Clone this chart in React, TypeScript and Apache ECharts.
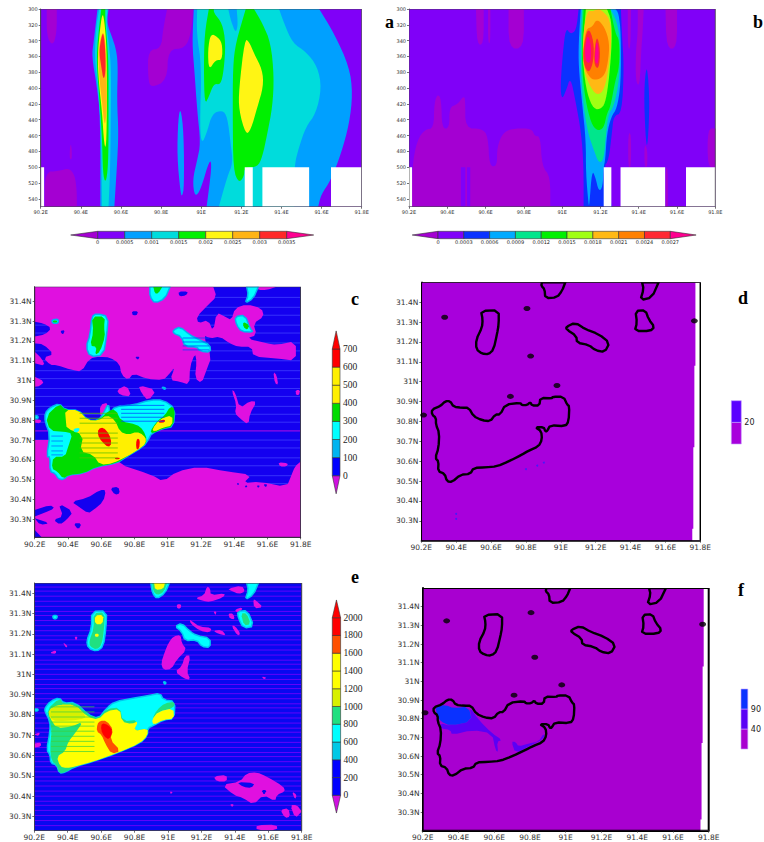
import React, { useEffect, useRef } from "react";
import * as echarts from "echarts";

type P = number[];
// ---- axis ticks
const lonTicks = [90.2, 90.4, 90.6, 90.8, 91, 91.2, 91.4, 91.6, 91.8];
const latTicks = [30.3, 30.4, 30.5, 30.6, 30.7, 30.8, 30.9, 31, 31.1, 31.2, 31.3, 31.4];
const pressureTicks = [300, 320, 340, 360, 380, 400, 420, 440, 460, 480, 500, 520, 540];
const levelsA = [0, 0.0005, 0.001, 0.0015, 0.002, 0.0025, 0.003, 0.0035];
const levelsB = [0, 0.0003, 0.0006, 0.0009, 0.0012, 0.0015, 0.0018, 0.0021, 0.0024, 0.0027];
const levelsC = [0, 100, 200, 300, 400, 500, 600, 700];
const levelsE = [0, 200, 400, 600, 800, 1000, 1200, 1400, 1600, 1800, 2000];
const levelsD = [0, 20, 40];
const levelsF = [-10, 40, 90, 140];

// ---- panel a (longitude, pressure)
const aNegTop: P[] = [[90.23,300],[90.28,300],[90.28,330],[90.26,347],[90.23,335]];
const aNegLow: P[] = [[90.22,506],[90.29,505],[90.34,501],[90.37,510],[90.38,530],[90.38,550],[90.22,550]];
const aNegTiny: P[] = [[90.345,478],[90.35,470],[90.355,478],[90.355,490],[90.345,490]];
const aNegMid: P[] = [[90.83,300],[90.96,300],[90.95,330],[90.92,350],[90.835,351],[90.83,390],[90.75,400],[90.735,388],[90.735,352],[90.8,350],[90.81,326]];
const aBlue1: P[] = [[90.483,300],[90.463,343],[90.455,360],[90.48,398],[90.497,436],[90.497,550],[90.567,550],[90.58,499],[90.588,457],[90.58,415],[90.585,373],[90.577,352],[90.555,335],[90.53,318],[90.538,300]];
const aCyan1: P[] = [[90.492,300],[90.477,322],[90.468,360],[90.485,398],[90.502,457],[90.505,550],[90.538,550],[90.547,499],[90.55,415],[90.55,373],[90.543,352],[90.527,318],[90.533,300]];
const aGreen1: P[] = [[90.502,300],[90.493,318],[90.477,360],[90.49,407],[90.505,457],[90.51,508],[90.522,520],[90.533,508],[90.538,478],[90.538,415],[90.538,373],[90.533,348],[90.522,314],[90.522,300]];
const aYellow1: P[] = [[90.508,305],[90.497,322],[90.483,360],[90.49,394],[90.505,428],[90.517,474],[90.527,474],[90.53,424],[90.53,381],[90.527,343],[90.517,314]];
const aOrange1: P[] = [[90.51,327],[90.493,343],[90.487,358],[90.493,390],[90.505,415],[90.518,449],[90.527,436],[90.53,415],[90.527,373],[90.522,339]];
const aRed1: P[] = [[90.51,329],[90.497,343],[90.492,356],[90.502,373],[90.513,390],[90.523,381],[90.523,360],[90.518,339]];
const aBlueThin: P[] = [[90.897,424],[90.885,440],[90.88,487],[90.897,533],[90.905,537],[90.915,525],[90.913,457]];
const aBlueBig: P[] = [[90.963,300],[90.955,343],[90.967,381],[90.98,428],[90.997,470],[90.98,491],[90.957,516],[90.968,538],[90.997,529],[91.043,489],[91.053,499],[91.027,550],[91.583,550],[91.597,535],[91.647,516],[91.697,483],[91.738,445],[91.755,407],[91.738,373],[91.663,331],[91.588,300]];
const aCyanBig: P[] = [[90.98,300],[90.977,331],[91.002,373],[90.993,449],[91.003,471],[91.027,457],[91.055,432],[91.105,428],[91.13,436],[91.147,470],[91.158,495],[91.13,512],[91.088,550],[91.463,550],[91.463,499],[91.488,474],[91.522,449],[91.572,432],[91.6,400],[91.58,373],[91.522,354],[91.455,343],[91.413,318],[91.388,300]];
const aBlueGap: P[] = [[91.135,300],[91.147,314],[91.172,331],[91.183,320],[91.177,300]];
const aGreen2: P[] = [[91.038,300],[91.017,331],[91.013,373],[91.017,421],[91.038,411],[91.063,394],[91.097,396],[91.113,377],[91.122,343],[91.105,318],[91.063,305],[91.063,300]];
const aYellow2: P[] = [[91.047,331],[91.033,352],[91.038,378],[91.072,364],[91.105,365],[91.105,343],[91.08,335]];
const aGreen3: P[] = [[91.222,300],[91.172,343],[91.158,373],[91.157,436],[91.16,504],[91.188,520],[91.213,512],[91.217,500],[91.28,500],[91.305,487],[91.33,457],[91.355,424],[91.363,386],[91.347,343],[91.305,318],[91.263,300]];
const aYellow3: P[] = [[91.217,338],[91.188,402],[91.188,428],[91.222,459],[91.247,453],[91.28,424],[91.31,398],[91.305,377],[91.263,356],[91.238,341]];
const aBlanks: P[][] = [
  [[90.2,500],[90.217,500],[90.217,550],[90.2,550]],
  [[91.217,500],[91.257,500],[91.257,550],[91.217,550]],
  [[91.305,500],[91.538,500],[91.538,550],[91.305,550]],
  [[91.647,500],[91.8,500],[91.8,550],[91.647,550]],
];

// ---- panel b (longitude, pressure)
const bNegLow: P[] = [[90.216,500],[90.242,466],[90.285,452],[90.329,451],[90.332,419],[90.35,407],[90.369,415],[90.372,451],[90.411,451],[90.411,424],[90.451,421],[90.486,410],[90.494,415],[90.494,451],[90.581,451],[90.613,461],[90.62,499],[90.66,499],[90.66,474],[90.694,455],[90.755,451],[90.842,451],[90.856,461],[90.886,461],[90.895,499],[90.938,512],[90.938,550],[90.216,550]];
const bStripe1: P[] = [[90.471,500],[90.494,500],[90.494,550],[90.471,550]];
const bStripe2: P[] = [[90.503,500],[90.52,500],[90.52,550],[90.503,550]];
const bNegTops: P[][] = [
  [[90.55,300],[90.59,300],[90.59,345],[90.555,345]],
  [[90.613,300],[90.625,300],[90.625,343],[90.613,343]],
  [[90.72,300],[90.8,300],[90.8,350],[90.72,350]],
  [[91.343,300],[91.36,300],[91.357,350],[91.343,350]],
  [[91.395,300],[91.426,300],[91.42,331],[91.413,352],[91.405,398],[91.384,392],[91.385,352],[91.395,331]],
  [[91.54,300],[91.6,300],[91.6,350],[91.545,350]],
  [[91.345,457],[91.36,457],[91.36,500],[91.345,500]],
  [[91.43,470],[91.445,478],[91.445,500],[91.43,500]],
  [[91.76,451],[91.8,451],[91.8,500],[91.76,500]],
  [[91.54,500],[91.552,500],[91.552,550],[91.54,550]],
];
const bBlue: P[] = [[91.086,300],[91.074,327],[91.043,332],[91.022,324],[91.008,343],[90.99,398],[90.999,415],[91.022,402],[91.043,386],[91.069,415],[91.1,457],[91.112,499],[91.112,550],[91.26,550],[91.217,500],[91.243,491],[91.26,457],[91.269,435],[91.312,432],[91.323,373],[91.312,331],[91.307,300]];
const bLight: P[] = [[91.097,300],[91.086,343],[91.086,373],[91.104,419],[91.124,466],[91.124,508],[91.138,548],[91.142,548],[91.156,504],[91.173,512],[91.191,531],[91.212,525],[91.217,499],[91.225,491],[91.234,457],[91.257,436],[91.286,426],[91.307,394],[91.307,331],[91.295,305],[91.278,300]];
const bMint: P[] = [[91.104,300],[91.097,339],[91.097,377],[91.112,424],[91.135,457],[91.165,478],[91.191,495],[91.217,491],[91.229,457],[91.243,432],[91.269,424],[91.299,390],[91.304,339],[91.283,314],[91.252,300]];
const bGreen: P[] = [[91.112,300],[91.104,339],[91.104,377],[91.121,415],[91.152,445],[91.182,454],[91.217,451],[91.234,432],[91.252,424],[91.278,390],[91.299,373],[91.299,339],[91.278,331],[91.252,300]];
const bLime: P[] = [[91.124,300],[91.11,339],[91.11,373],[91.13,407],[91.165,427],[91.208,426],[91.229,415],[91.246,386],[91.26,343],[91.257,314],[91.234,300]];
const bGold: P[] = [[91.13,302],[91.108,335],[91.108,372],[91.14,396],[91.182,410],[91.222,402],[91.248,367],[91.258,335],[91.248,312],[91.212,303],[91.191,300],[91.156,303]];
const bOrange: P[] = [[91.124,325],[91.11,352],[91.113,373],[91.147,388],[91.182,390],[91.222,384],[91.24,367],[91.248,343],[91.222,323],[91.182,312],[91.156,323]];
const bRed1: P[] = [[91.135,322],[91.11,349],[91.112,370],[91.14,382],[91.165,365],[91.165,340]];
const bRed2: P[] = [[91.182,333],[91.168,352],[91.168,372],[91.192,376],[91.2,352]];
const bPink1: P[] = [[91.133,331],[91.117,352],[91.125,368],[91.15,368],[91.152,346]];
const bPink2: P[] = [[91.18,339],[91.172,355],[91.172,368],[91.188,370],[91.192,352]];
const bThin: P[] = [[91.44,370],[91.427,405],[91.435,460],[91.445,478],[91.456,430],[91.452,392]];
const bBlanks: P[][] = [
  [[90.2,500],[90.216,500],[90.216,550],[90.2,550]],
  [[91.217,500],[91.257,500],[91.257,550],[91.217,550]],
  [[91.305,500],[91.538,500],[91.538,550],[91.305,550]],
  [[91.647,500],[91.8,500],[91.8,550],[91.647,550]],
];

// ---- panel c (longitude, latitude)
const cNegTop: P[] = [[90.2,31.474],[91.274,31.474],[91.294,31.424],[91.244,31.382],[91.174,31.323],[91.184,31.289],[91.244,31.306],[91.274,31.247],[91.294,31.344],[91.344,31.323],[91.384,31.306],[91.404,31.365],[91.475,31.385],[91.565,31.365],[91.579,31.323],[91.515,31.289],[91.535,31.23],[91.475,31.213],[91.595,31.188],[91.655,31.18],[91.771,31.2],[91.771,31.099],[91.655,31.112],[91.515,31.121],[91.505,31.171],[91.424,31.171],[91.374,31.188],[91.314,31.222],[91.254,31.213],[91.214,31.23],[91.264,31.121],[91.234,31.054],[91.204,30.986],[91.164,31.012],[91.174,31.096],[91.164,31.138],[91.134,31.07],[91.13,30.978],[91.074,30.995],[91.014,31.003],[91.044,31.07],[91.004,31.028],[90.974,31.003],[90.873,31.008],[90.793,31.037],[90.763,31.003],[90.723,31.028],[90.709,31.087],[90.653,31.116],[90.593,31.121],[90.529,31.112],[90.483,31.045],[90.422,31.054],[90.332,31.079],[90.292,31.079],[90.252,31.116],[90.316,31.133],[90.252,31.183],[90.2,31.188],[90.2,31.222],[90.262,31.233],[90.302,31.264],[90.252,31.289],[90.2,31.297]];
const cNegLow: P[] = [[90.2,30.7],[90.593,30.7],[90.693,30.583],[90.903,30.524],[90.974,30.49],[91.054,30.541],[91.194,30.566],[91.354,30.541],[91.505,30.524],[91.454,30.482],[91.555,30.49],[91.715,30.462],[91.745,30.524],[91.765,30.566],[91.8,30.591],[91.8,30.209],[90.2,30.209]];
const cNegBits: P[][] = [
  [[91.535,31.474],[91.655,31.474],[91.595,31.457],[91.545,31.457]],
  [[90.2,31.146],[90.242,31.112],[90.262,31.075],[90.2,31.087]],
  [[90.2,31.02],[90.258,30.995],[90.232,30.973],[90.2,30.969]],
  [[90.693,30.953],[90.753,30.978],[90.783,30.919],[90.713,30.927]],
  [[90.823,30.978],[90.933,30.953],[90.883,30.897],[90.843,30.936]],
  [[91.384,30.953],[91.404,30.944],[91.434,30.86],[91.495,30.897],[91.535,30.893],[91.495,30.835],[91.485,30.776],[91.434,30.81],[91.404,30.835],[91.414,30.877]],
  [[91.635,31.045],[91.655,31.028],[91.665,30.978],[91.645,30.986]],
  [[91.771,30.953],[91.795,30.953],[91.791,30.927],[91.771,30.927]],
  [[90.593,30.877],[90.643,30.89],[90.629,30.826],[90.593,30.818]],
  [[90.2,30.806],[90.242,30.801],[90.232,30.784],[90.2,30.789]],
  [[91.665,30.588],[91.725,30.583],[91.715,30.566],[91.675,30.566]],
];
const cHoles: P[][] = [
  [[90.422,30.389],[90.513,30.406],[90.593,30.448],[90.629,30.448],[90.613,30.389],[90.553,30.347],[90.523,30.33],[90.463,30.364]],
  [[90.653,30.457],[90.703,30.465],[90.713,30.431],[90.683,30.423]],
  [[90.2,30.347],[90.292,30.372],[90.322,30.356],[90.252,30.33],[90.2,30.314]],
  [[90.342,30.381],[90.432,30.339],[90.392,30.297],[90.352,30.272],[90.312,30.297],[90.372,30.314]],
  [[90.2,30.246],[90.242,30.209],[90.2,30.209]],
  [[90.432,30.28],[90.483,30.28],[90.463,30.246]],
  [[90.2,30.305],[90.292,30.28],[90.232,30.272]],
  [[91.414,30.482],[91.43,30.482],[91.424,30.47]],
  [[91.465,30.47],[91.48,30.47],[91.47,30.458]],
  [[91.535,30.47],[91.555,30.47],[91.545,30.458]],
  [[91.575,30.477],[91.6,30.477],[91.59,30.46]],
  [[90.783,31.35],[90.823,31.35],[90.813,31.33],[90.79,31.33]],
  [[91.064,31.45],[91.124,31.45],[91.11,31.43],[91.07,31.425]],
  [[90.352,31.25],[90.382,31.255],[90.37,31.23]],
  [[90.803,31.12],[90.833,31.12],[90.82,31.104]],
];
const cBody: P[] = [[90.262,30.835],[90.292,30.864],[90.348,30.885],[90.382,30.852],[90.463,30.852],[90.517,30.801],[90.583,30.798],[90.613,30.835],[90.643,30.885],[90.653,30.835],[90.683,30.869],[90.793,30.877],[90.893,30.902],[90.974,30.902],[91.044,30.86],[91.034,30.768],[90.974,30.759],[90.903,30.734],[90.883,30.7],[90.853,30.667],[90.753,30.616],[90.693,30.583],[90.573,30.566],[90.493,30.532],[90.402,30.524],[90.372,30.499],[90.342,30.504],[90.322,30.532],[90.292,30.541],[90.292,30.616],[90.272,30.616],[90.292,30.726],[90.262,30.793]];
const cGreen: P[] = [[90.266,30.818],[90.348,30.885],[90.382,30.852],[90.463,30.852],[90.517,30.801],[90.583,30.798],[90.643,30.847],[90.683,30.857],[90.723,30.793],[90.813,30.779],[90.853,30.751],[90.877,30.7],[90.853,30.667],[90.753,30.616],[90.693,30.583],[90.573,30.566],[90.493,30.532],[90.402,30.524],[90.372,30.504],[90.336,30.541],[90.302,30.557],[90.312,30.616],[90.382,30.616],[90.402,30.667],[90.428,30.734],[90.372,30.742],[90.292,30.746]];
const cYellow: P[] = [[90.382,30.852],[90.463,30.852],[90.517,30.801],[90.583,30.798],[90.633,30.826],[90.683,30.801],[90.713,30.742],[90.763,30.726],[90.813,30.742],[90.853,30.726],[90.873,30.7],[90.853,30.667],[90.753,30.616],[90.673,30.583],[90.593,30.574],[90.553,30.625],[90.473,30.642],[90.493,30.726],[90.392,30.759],[90.388,30.793]];
const cPocket: P[] = [[90.432,30.756],[90.473,30.763],[90.463,30.739],[90.437,30.739]];
const cReds: P[][] = [
  [[90.583,30.756],[90.613,30.764],[90.649,30.729],[90.663,30.684],[90.643,30.662],[90.603,30.692],[90.579,30.726]],
  [[90.817,30.709],[90.833,30.7],[90.829,30.658],[90.813,30.65],[90.809,30.684]],
  [[90.943,30.796],[90.983,30.805],[90.983,30.79],[90.95,30.786]],
  [[90.683,30.611],[90.713,30.611],[90.709,30.603],[90.683,30.603]],
];
const cNeGreen: P[] = [[90.893,30.742],[90.933,30.793],[90.984,30.826],[91.014,30.869],[91.044,30.86],[91.034,30.768],[90.974,30.759],[90.913,30.734]];
const cNeYellow: P[] = [[90.907,30.756],[90.953,30.806],[91.028,30.826],[91.028,30.773],[90.974,30.763],[90.918,30.742]];
const cBlobs: P[][] = [
  [[90.543,31.323],[90.573,31.339],[90.643,31.323],[90.633,31.23],[90.613,31.129],[90.533,31.121],[90.509,31.171],[90.533,31.23]],
  [[90.893,31.474],[91.014,31.474],[90.984,31.415],[90.923,31.39],[90.893,31.424]],
  [[91.404,31.323],[91.465,31.331],[91.495,31.264],[91.515,31.244],[91.445,31.247],[91.414,31.281]],
  [[91.475,31.474],[91.545,31.474],[91.515,31.415],[91.465,31.39],[91.485,31.432]],
  [[91.034,31.255],[91.074,31.272],[91.134,31.23],[91.194,31.205],[91.254,31.18],[91.258,31.143],[91.194,31.149],[91.174,31.171],[91.104,31.171],[91.084,31.222],[91.034,31.239]],
  [[90.302,31.306],[90.342,31.311],[90.342,31.289],[90.308,31.289]],
  [[90.2,30.822],[90.22,30.822],[90.22,30.808],[90.2,30.808]],
  [[90.964,30.968],[90.99,30.962],[90.98,30.955]],
];
const cBlobGreens: P[][] = [
  [[90.543,31.323],[90.623,31.323],[90.617,31.272],[90.623,31.222],[90.593,31.146],[90.563,31.129],[90.573,31.171],[90.533,31.176],[90.553,31.247]],
  [[90.913,31.474],[90.968,31.474],[90.943,31.44],[90.923,31.44]],
  [[91.454,31.297],[91.491,31.281],[91.479,31.255],[91.454,31.272]],
  [[90.31,31.303],[90.335,31.303],[90.335,31.293],[90.31,31.293]],
];
const cBackLats = [31.42, 31.37, 31.33, 31.28, 31.24, 31.19, 31.15, 31.1, 31.05, 31.01, 30.96, 30.92, 30.87, 30.83, 30.79, 30.7, 30.66, 30.61, 30.57, 30.52, 30.48];
const cMagentaLat = [30.746];
const cCyanLatsNe = [30.875, 30.855, 30.835, 30.815, 30.795];
const cCyanLatsW = [30.72, 30.695, 30.67, 30.645, 30.625];
const cCyanLatsBlob = [31.215, 31.195, 31.175, 31.155];
const cYellowLats = [30.835, 30.81, 30.785, 30.735, 30.71, 30.685, 30.66, 30.635, 30.61];

// ---- panels d and f share the same outlines
const outMain: P[] = [[90.261,30.86],[90.309,30.877],[90.338,30.902],[90.366,30.902],[90.385,30.874],[90.433,30.869],[90.472,30.869],[90.5,30.826],[90.548,30.806],[90.596,30.801],[90.624,30.835],[90.653,30.835],[90.682,30.885],[90.768,30.894],[90.777,30.882],[90.806,30.882],[90.825,30.897],[90.835,30.88],[90.877,30.88],[90.883,30.919],[90.95,30.916],[90.953,30.924],[91.016,30.924],[91.036,30.885],[91.049,30.877],[91.045,30.801],[91.026,30.776],[90.94,30.781],[90.921,30.751],[90.911,30.751],[90.902,30.771],[90.854,30.771],[90.888,30.751],[90.892,30.709],[90.873,30.675],[90.816,30.653],[90.777,30.633],[90.701,30.599],[90.634,30.574],[90.567,30.569],[90.5,30.566],[90.481,30.536],[90.424,30.532],[90.376,30.495],[90.347,30.499],[90.334,30.537],[90.296,30.549],[90.299,30.599],[90.28,30.616],[90.299,30.667],[90.303,30.742],[90.284,30.784],[90.284,30.818],[90.261,30.835]];
const outA: P[] = [[90.542,31.356],[90.644,31.36],[90.644,31.289],[90.634,31.239],[90.615,31.163],[90.586,31.138],[90.548,31.141],[90.515,31.163],[90.515,31.213],[90.548,31.272],[90.552,31.314]];
const outB: P[] = [[90.892,31.5],[91.026,31.5],[91.007,31.457],[90.978,31.424],[90.911,31.42],[90.907,31.466],[90.888,31.482]];
const outC: P[] = [[91.466,31.5],[91.561,31.5],[91.523,31.424],[91.456,31.41],[91.475,31.466]];
const outD: P[] = [[91.428,31.356],[91.485,31.36],[91.504,31.314],[91.537,31.276],[91.514,31.255],[91.424,31.255],[91.437,31.297]];
const outE: P[] = [[91.032,31.276],[91.083,31.297],[91.141,31.264],[91.217,31.239],[91.28,31.196],[91.252,31.149],[91.198,31.158],[91.16,31.185],[91.093,31.196],[91.089,31.23],[91.032,31.264]];
const outDots: P[] = [[90.334,31.324],[90.806,31.368],[90.827,31.129],[90.711,30.926],[90.213,30.832],[90.978,30.981],[91.766,31.306]];
const dBlueDots: P[] = [[90.4,30.335],[90.4,30.31],[90.8,30.56],[90.865,30.578],[90.903,30.593]];
const rightBlank: P[] = [[91.772,31.5],[91.8,31.5],[91.8,30.2],[91.754,30.2],[91.754,30.26],[91.76,30.26],[91.76,30.67],[91.766,30.67],[91.766,31.08],[91.772,31.08]];
const fBlue: P[] = [[90.271,30.865],[90.327,30.874],[90.374,30.856],[90.457,30.865],[90.476,30.785],[90.355,30.761],[90.299,30.785],[90.28,30.821]];
const fViolet1: P[] = [[90.299,30.776],[90.355,30.761],[90.476,30.785],[90.461,30.865],[90.513,30.794],[90.588,30.722],[90.644,30.686],[90.616,30.677],[90.622,30.62],[90.607,30.632],[90.588,30.722],[90.476,30.74],[90.364,30.713],[90.355,30.74],[90.299,30.749]];
const fViolet2: P[] = [[90.696,30.677],[90.719,30.677],[90.737,30.65],[90.793,30.668],[90.849,30.677],[90.877,30.722],[90.881,30.695],[90.793,30.65],[90.719,30.614]];

// ---- panel e (longitude, latitude)
const eStripeLats = [31.43,31.41,31.385,31.36,31.335,31.31,31.29,31.265,31.24,31.215,31.19,31.17,31.145,31.12,31.095,31.07,31.05,31.025,31,30.975,30.95,30.93,30.905,30.88,30.855,30.835,30.81,30.785,30.76,30.735,30.715,30.69,30.665,30.64,30.615,30.595,30.57,30.545,30.52,30.495,30.475,30.45,30.425,30.4,30.375,30.355,30.33,30.305,30.28,30.255];
const eMagenta: P[][] = [
  [[91.032,31.187],[91.076,31.195],[91.082,31.154],[91.112,31.121],[91.052,31.072],[91.022,31.027],[90.972,31.022],[90.958,31.055],[90.982,31.113],[91.002,31.154]],
  [[91.102,31.093],[91.136,31.093],[91.112,31.014],[91.136,30.973],[91.092,30.981],[91.042,31.014],[91.082,31.039]],
  [[91.162,31.375],[91.216,31.389],[91.232,31.433],[91.252,31.425],[91.256,31.389],[91.342,31.4],[91.332,31.38],[91.252,31.356],[91.212,31.362]],
  [[91.356,31.421],[91.442,31.438],[91.462,31.408],[91.422,31.395],[91.382,31.411]],
  [[91.052,31.345],[91.08,31.345],[91.075,31.325],[91.055,31.325]],
  [[91.272,31.31],[91.29,31.31],[91.285,31.29]],
  [[91.36,31.3],[91.39,31.3],[91.4,31.27],[91.37,31.275]],
  [[91.4,31.32],[91.445,31.33],[91.44,31.315],[91.41,31.305]],
  [[91.51,31.37],[91.525,31.365],[91.57,31.33],[91.515,31.325]],
  [[91.38,31.24],[91.4,31.24],[91.435,31.2],[91.415,31.19]],
  [[91.13,31.27],[91.145,31.26],[91.19,31.235],[91.262,31.23],[91.25,31.205],[91.19,31.215],[91.135,31.25]],
  [[91.27,31.215],[91.32,31.22],[91.35,31.19],[91.3,31.2]],
  [[90.29,31.105],[90.33,31.12],[90.33,31.1]],
  [[90.37,31.16],[90.4,31.14],[90.39,31.13]],
  [[90.44,31.185],[90.46,31.185],[90.45,31.165]],
  [[90.2,30.66],[90.24,30.665],[90.24,30.645],[90.2,30.64]],
  [[90.2,30.705],[90.235,30.715],[90.225,30.695]],
  [[91.47,30.513],[91.531,30.518],[91.591,30.497],[91.691,30.448],[91.701,30.423],[91.651,30.407],[91.641,30.374],[91.571,30.407],[91.511,30.358],[91.451,30.39],[91.392,30.407],[91.322,30.456],[91.432,30.472]],
  [[91.272,30.497],[91.352,30.505],[91.352,30.472],[91.292,30.472]],
  [[91.671,30.333],[91.721,30.341],[91.731,30.3],[91.701,30.292]],
  [[91.731,30.357],[91.771,30.357],[91.8,30.325],[91.761,30.29]],
  [[91.741,30.423],[91.771,30.407],[91.761,30.382]],
  [[91.53,30.258],[91.65,30.26],[91.655,30.232],[91.53,30.232]],
  [[91.012,30.424],[91.03,30.42],[91.015,30.41]],
  [[91.37,30.36],[91.395,30.36],[91.385,30.345]],
  [[91.56,30.99],[91.59,30.985],[91.575,30.975]],
];
const eMagentaHoles: P[][] = [
  [[91.41,30.47],[91.52,30.465],[91.5,30.44],[91.45,30.445]],
  [[91.56,30.43],[91.59,30.43],[91.575,30.405]],
];
const eBody: P[] = [[90.264,30.834],[90.294,30.866],[90.35,30.886],[90.374,30.858],[90.444,30.863],[90.523,30.801],[90.583,30.781],[90.633,30.834],[90.683,30.866],[90.793,30.883],[90.883,30.896],[90.953,30.907],[90.972,30.875],[91.042,30.866],[91.036,30.781],[90.972,30.776],[90.913,30.748],[90.879,30.735],[90.877,30.699],[90.833,30.661],[90.693,30.612],[90.553,30.571],[90.444,30.546],[90.384,30.518],[90.35,30.513],[90.334,30.554],[90.298,30.563],[90.294,30.604],[90.274,30.628],[90.294,30.719],[90.294,30.768],[90.264,30.817]];
const eGreen: P[] = [[90.274,30.825],[90.35,30.883],[90.374,30.855],[90.444,30.86],[90.523,30.801],[90.583,30.781],[90.633,30.83],[90.713,30.837],[90.729,30.768],[90.823,30.776],[90.793,30.719],[90.879,30.735],[90.877,30.699],[90.833,30.661],[90.693,30.612],[90.553,30.571],[90.444,30.546],[90.384,30.518],[90.35,30.513],[90.334,30.554],[90.304,30.571],[90.294,30.637],[90.304,30.719],[90.294,30.768]];
const eYellow: P[] = [[90.284,30.825],[90.344,30.85],[90.444,30.85],[90.517,30.792],[90.583,30.776],[90.633,30.82],[90.713,30.83],[90.723,30.768],[90.783,30.755],[90.823,30.771],[90.793,30.719],[90.879,30.735],[90.877,30.699],[90.833,30.661],[90.693,30.612],[90.553,30.571],[90.444,30.546],[90.394,30.538],[90.354,30.546],[90.334,30.595],[90.384,30.62],[90.404,30.669],[90.444,30.71],[90.493,30.768],[90.424,30.743],[90.334,30.735],[90.294,30.784]];
const eLime: P[] = [[90.284,30.825],[90.344,30.85],[90.444,30.85],[90.517,30.792],[90.473,30.776],[90.334,30.768],[90.294,30.784]];
const eNeGreen: P[] = [[91.042,30.866],[91.032,30.834],[90.943,30.817],[90.903,30.776],[90.933,30.825],[90.982,30.858]];
const eNeYellow: P[] = [[90.903,30.776],[90.943,30.817],[91.032,30.834],[91.036,30.781],[90.972,30.776],[90.913,30.751]];
const eOrange: P[] = [[90.593,30.771],[90.633,30.771],[90.673,30.727],[90.653,30.678],[90.717,30.623],[90.663,30.607],[90.623,30.661],[90.603,30.702],[90.573,30.719],[90.577,30.755]];
const eRed: P[] = [[90.603,30.76],[90.643,30.751],[90.669,30.722],[90.649,30.678],[90.617,30.694],[90.599,30.727]];
const eBlobs: P[][] = [
  [[90.543,31.31],[90.633,31.313],[90.629,31.228],[90.613,31.137],[90.573,31.113],[90.523,31.129],[90.513,31.165],[90.543,31.228]],
  [[90.897,31.45],[91.008,31.45],[90.982,31.4],[90.933,31.372],[90.907,31.4]],
  [[91.416,31.31],[91.475,31.315],[91.515,31.236],[91.451,31.228],[91.421,31.277]],
  [[91.471,31.45],[91.541,31.45],[91.511,31.392],[91.461,31.367],[91.481,31.416]],
  [[91.042,31.236],[91.082,31.252],[91.132,31.211],[91.172,31.191],[91.252,31.178],[91.252,31.132],[91.202,31.137],[91.172,31.17],[91.102,31.165],[91.082,31.211]],
  [[90.31,31.29],[90.338,31.29],[90.334,31.274],[90.314,31.274]],
  [[90.202,30.83],[90.222,30.83],[90.222,30.82],[90.202,30.82]],
  [[90.972,30.965],[90.99,30.96],[90.98,30.95]],
];
const eBlobGreens: P[][] = [
  [[90.553,31.301],[90.623,31.306],[90.617,31.219],[90.603,31.145],[90.573,31.121],[90.533,31.137],[90.529,31.165],[90.557,31.228]],
  [[90.905,31.45],[90.995,31.45],[90.975,31.405],[90.935,31.39],[90.912,31.41]],
  [[91.436,31.301],[91.471,31.301],[91.495,31.247],[91.455,31.241]],
];
const eBlobYellows: P[][] = [
  [[90.563,31.29],[90.613,31.293],[90.609,31.247],[90.563,31.247]],
  [[90.563,31.2],[90.585,31.2],[90.585,31.185],[90.563,31.185]],
  [[90.917,31.45],[90.982,31.45],[90.972,31.421],[90.923,31.416]],
];
const eBodyLats = [30.84, 30.815, 30.79, 30.765, 30.745, 30.72, 30.695, 30.67, 30.645, 30.62];

// ---- drawing helpers
type Item = { pts: P[]; fill?: string; stroke?: string; lw?: number; open?: boolean; sharp?: boolean };
const poly = (pts: P[], fill: string, stroke?: string, lw?: number): Item => ({ pts, fill, stroke, lw });
const polys = (list: P[][], fill: string, stroke?: string, lw?: number): Item[] => list.map((p) => poly(p, fill, stroke, lw));
const block = (pts: P[], fill: string): Item => ({ pts, fill, sharp: true });
const hLines = (lats: number[], lon0: number, lon1: number, stroke: string, lw = 1): Item[] =>
  lats.map((lat) => ({ pts: [[lon0, lat], [lon1, lat]], stroke, lw, open: true, sharp: true }));
const box = (x0: number, x1: number, y0: number, y1: number): P[] => [[x0, y0], [x1, y0], [x1, y1], [x0, y1]];

// Rounds the corners of a contour when it is drawn; a corner on the frame stays where it is.
function rounded(pts: P[], y0: number, y1: number, passes: number): P[] {
  let cur = pts;
  const onEdge = (q: P) => q[0] === 90.2 || q[0] === 91.8 || q[1] === y0 || q[1] === y1;
  for (let n = 0; n < passes; n++) {
    const out: P[] = [];
    cur.forEach((q, i) => {
      if (onEdge(q)) { out.push(q); return; }
      const a = cur[(i + cur.length - 1) % cur.length];
      const b = cur[(i + 1) % cur.length];
      out.push([q[0] + (a[0] - q[0]) * 0.25, q[1] + (a[1] - q[1]) * 0.25]);
      out.push([q[0] + (b[0] - q[0]) * 0.25, q[1] + (b[1] - q[1]) * 0.25]);
    });
    cur = out;
  }
  return cur;
}

const NEG = "#a400d2";
const BASE = "#8000f8";
const WHITE = "#ffffff";

const aItems: Item[] = [
  block(box(90.2, 91.8, 300, 550), BASE),
  poly(aNegTop, NEG), poly(aNegLow, NEG), poly(aNegTiny, NEG), poly(aNegMid, NEG),
  poly(aBlueThin, "#00a0ff"), poly(aBlueBig, "#00a0ff"), poly(aBlue1, "#00a0ff"),
  poly(aCyanBig, "#00dcdc"), poly(aBlueGap, "#00a0ff"), poly(aCyan1, "#00dcdc"),
  poly(aGreen1, "#00f000"), poly(aGreen2, "#00f000"), poly(aGreen3, "#00f000"),
  poly(aYellow1, "#fff514"), poly(aYellow2, "#fff514"), poly(aYellow3, "#fff514"),
  poly(aOrange1, "#ffb414"), poly(aRed1, "#ff2828"),
  ...aBlanks.map((p) => block(p, WHITE)),
];
const bItems: Item[] = [
  block(box(90.2, 91.8, 300, 550), BASE),
  poly(bNegLow, NEG), ...polys(bNegTops, NEG),
  block(bStripe1, BASE), block(bStripe2, BASE),
  poly(bThin, "#0a32ff"),
  poly(bBlue, "#0a32ff"), poly(bLight, "#00aaff"), poly(bMint, "#00e68c"), poly(bGreen, "#00f000"),
  poly(bLime, "#a0ff14"), poly(bGold, "#ffb914"), poly(bOrange, "#ff8000"),
  poly(bRed1, "#ff2832"), poly(bRed2, "#ff2832"), poly(bPink1, "#ff0090"), poly(bPink2, "#ff0090"),
  ...bBlanks.map((p) => block(p, WHITE)),
];
const cItems: Item[] = [
  block(box(90.2, 91.8, 30.209, 31.474), "#1400f0"),
  ...hLines(cBackLats, 90.2, 91.8, "rgba(70,70,255,0.7)"),
  poly(cNegTop, "#e010e0"), poly(cNegLow, "#e010e0"), ...polys(cNegBits, "#e010e0"),
  ...polys(cHoles, "#1400f0"),
  ...hLines(cMagentaLat, 90.2, 91.8, "rgba(224,16,224,0.8)"),
  poly(cBody, "#00ffff", "#00b4f0", 1.5), ...polys(cBlobs, "#00ffff", "#00b4f0", 1.5),
  ...polys(cBlobGreens, "#00dc00"),
  poly(cGreen, "#00dc00"), poly(cNeGreen, "#00dc00"),
  poly(cYellow, "#fff000"), poly(cNeYellow, "#fff000"), poly(cPocket, "#00ffff"),
  ...polys(cReds, "#ff0000"),
  ...hLines(cCyanLatsNe, 90.72, 90.98, "rgba(0,70,255,0.75)"),
  ...hLines(cCyanLatsW, 90.3, 90.37, "rgba(0,70,255,0.6)"),
  ...hLines(cCyanLatsBlob, 91.09, 91.25, "rgba(0,70,255,0.75)"),
  ...hLines(cYellowLats, 90.47, 90.7, "rgba(90,190,0,0.75)"),
];
const dItems: Item[] = [
  block(box(90.2, 91.8, 30.2, 31.5), "#a800dc"),
  block(rightBlank, WHITE),
  ...[outMain, outA, outB, outC, outD, outE].map((p) => poly(p, "none", "#000", 2.4)),
];
const eItems: Item[] = [
  block(box(90.2, 91.8, 30.23, 31.45), "#0808f0"),
  ...hLines(eStripeLats, 90.2, 91.8, "rgba(130,0,255,0.75)"),
  ...polys(eMagenta, "#e010e0"), ...polys(eMagentaHoles, "#0808f0"),
  poly(eBody, "#00ffff", "#00c8f0", 1.5), ...polys(eBlobs, "#00ffff", "#00c8f0", 1.5),
  ...polys(eBlobGreens, "#20e080"), ...polys(eBlobYellows, "#ffff00"),
  poly(eGreen, "#20e080"), poly(eNeGreen, "#20e080"),
  poly(eYellow, "#ffff00"), poly(eNeYellow, "#ffff00"), poly(eLime, "#d8f000"),
  poly(eOrange, "#ff5000"), poly(eRed, "#ff0000"),
  ...hLines(eBodyLats, 90.3, 90.56, "rgba(60,210,60,0.7)"),
];
const fItems: Item[] = [
  block(box(90.2, 91.8, 30.2, 31.5), "#a800d0"),
  block(rightBlank, WHITE),
  poly(fViolet1, "#5a00f5"), poly(fViolet2, "#5a00f5"), poly(fBlue, "#0a32ff"),
  ...[outMain, outA, outB, outC, outD, outE].map((p) => poly(p, "none", "#000", 2.4)),
];

const panels = [
  { left: 40.7, top: 9, width: 321, height: 197.7, y0: 300, y1: 550, inverse: true, yTicks: pressureTicks, items: aItems, font: 5, frame: "#444", yFmt: (v: number) => `${v}`, lineH: 0.8, passes: 2 },
  { left: 409, top: 9, width: 306.3, height: 197.7, y0: 300, y1: 550, inverse: true, yTicks: pressureTicks, items: bItems, font: 5, frame: "#444", yFmt: (v: number) => `${v}`, lineH: 0.8, passes: 2 },
  { left: 34.7, top: 286.7, width: 266, height: 250.6, y0: 30.209, y1: 31.474, inverse: false, yTicks: latTicks, items: cItems, font: 7.5, frame: "#333", yFmt: (v: number) => `${v}N`, lineH: 1, passes: 1 },
  { left: 421.3, top: 282.3, width: 279, height: 258.4, y0: 30.2, y1: 31.5, inverse: false, yTicks: latTicks, items: dItems, font: 7.5, frame: "#000", yFmt: (v: number) => `${v}N`, lineH: 1.5, passes: 1 },
  { left: 34.3, top: 583, width: 267.4, height: 247.7, y0: 30.23, y1: 31.45, inverse: false, yTicks: latTicks, items: eItems, font: 7.5, frame: "#444", yFmt: (v: number) => `${v}N`, lineH: 1, passes: 1 },
  { left: 422.7, top: 588, width: 286, height: 242.7, y0: 30.2, y1: 31.5, inverse: false, yTicks: latTicks, items: fItems, font: 7.5, frame: "#000", yFmt: (v: number) => `${v}N`, lineH: 2, passes: 1 },
];

const bars = [
  { levels: levelsA, colors: [NEG, BASE, "#00a0ff", "#00dcdc", "#00f000", "#fff514", "#ffb414", "#ff2828", "#ff0090"], horizontal: true, left: 97.7, top: 231.3, width: 189, height: 7.4, tips: true, labels: levelsA, font: 5, ff: "DejaVu Sans", border: "#333" },
  { levels: levelsB, colors: [NEG, BASE, "#0a32ff", "#00aaff", "#00e68c", "#00f000", "#a0ff14", "#ffb914", "#ff8000", "#ff2832", "#ff0090"], horizontal: true, left: 438, top: 231.3, width: 232.3, height: 7.4, tips: true, labels: levelsB, font: 5, ff: "DejaVu Sans", border: "#333" },
  { levels: levelsC, colors: ["#d010e0", "#0000ff", "#00b4f0", "#00ffff", "#00dc00", "#fff000", "#fff000", "#ff0000", "#ff0000"], horizontal: false, left: 332.3, top: 349, width: 7.7, height: 126.7, tips: true, labels: levelsC, font: 9.5, ff: "Liberation Serif", border: "#333" },
  { levels: levelsD, colors: ["", "#a800dc", "#5a00ff", ""], horizontal: false, left: 731.3, top: 400.7, width: 10, height: 43.3, tips: false, labels: [20], font: 8, ff: "DejaVu Sans", border: "#c8a0ff" },
  { levels: levelsE, colors: ["#d010e0", "#0000ff", "#0000ff", "#00c8e6", "#00ffff", "#20e080", "#d8f000", "#ffff00", "#ffff00", "#ff5000", "#ff0000", "#ff0000"], horizontal: false, left: 332.3, top: 617.7, width: 8.3, height: 177.6, tips: true, labels: levelsE, font: 9.5, ff: "Liberation Serif", border: "#333" },
  { levels: levelsF, colors: ["", "#a800d0", "#5a00f5", "#0a32ff", ""], horizontal: false, left: 741, top: 689, width: 10, height: 60, tips: false, labels: [40, 90], font: 8, ff: "DejaVu Sans", border: "#c8a0ff" },
];

const letters = [
  { t: "a", x: 385, y: 22 },
  { t: "b", x: 753, y: 22 },
  { t: "c", x: 351, y: 299 },
  { t: "d", x: 738, y: 298 },
  { t: "e", x: 351, y: 577 },
  { t: "f", x: 738, y: 590 },
];

function buildOption() {
  const grid: any[] = [];
  const xAxis: any[] = [];
  const yAxis: any[] = [];
  const series: any[] = [];

  panels.forEach((p, i) => {
    grid.push({ left: p.left, top: p.top, width: p.width, height: p.height });
    const labelStyle = { fontFamily: "DejaVu Sans", fontSize: p.font, color: "#333" };
    xAxis.push({
      gridIndex: i, type: "value", min: 90.2, max: 91.8, position: "bottom",
      axisLine: { onZero: false, lineStyle: { color: p.frame, width: p.lineH } },
      splitLine: { show: false },
      axisTick: { customValues: lonTicks, length: 2, lineStyle: { color: "#333", width: 0.7 } },
      axisLabel: { ...labelStyle, customValues: lonTicks, margin: 3, formatter: (v: number) => `${v}E` },
    });
    yAxis.push({
      gridIndex: i, type: "value", min: p.y0, max: p.y1, inverse: p.inverse, position: "left",
      axisLine: { onZero: false, lineStyle: { color: p.frame, width: p.lineH } },
      splitLine: { show: false },
      axisTick: { customValues: p.yTicks, length: 2, lineStyle: { color: "#333", width: 0.7 } },
      axisLabel: { ...labelStyle, customValues: p.yTicks, margin: 3, formatter: p.yFmt },
    });
    const frame: Item = { pts: box(90.2, 91.8, p.y0, p.y1), fill: "none", stroke: p.frame, lw: p.lineH, sharp: true };
    const items = [...p.items, frame].map((it) => (it.sharp ? it : { ...it, pts: rounded(it.pts, p.y0, p.y1, p.passes) }));
    series.push({
      type: "custom", xAxisIndex: i, yAxisIndex: i, clip: true, silent: true, z: 2,
      data: items.map((_, k) => [k]),
      renderItem: (params: any, api: any) => {
        const it = items[params.dataIndex];
        return {
          type: it.open ? "polyline" : "polygon",
          shape: { points: it.pts.map((q) => api.coord(q)) },
          style: { fill: it.fill || "none", stroke: it.stroke || "none", lineWidth: it.lw || 0, lineJoin: "round" },
        };
      },
    });
  });

  // black dots of the small outlined cells, panels d and f
  [3, 5].forEach((idx) => {
    series.push({
      type: "scatter", xAxisIndex: idx, yAxisIndex: idx, data: outDots, symbol: "circle",
      symbolSize: [7, 5], itemStyle: { color: "#000" }, silent: true, z: 3,
    });
  });
  series.push({
    type: "scatter", xAxisIndex: 3, yAxisIndex: 3, data: dBlueDots, symbol: "circle",
    symbolSize: 2, itemStyle: { color: "#3020ff" }, silent: true, z: 3,
  });

  bars.forEach((b, j) => {
    const idx = panels.length + j;
    grid.push({ left: b.left, top: b.top, width: b.width, height: b.height });
    const lo = b.levels[0];
    const hi = b.levels[b.levels.length - 1];
    const step = b.levels[1] - b.levels[0];
    const valueAxis = {
      gridIndex: idx, type: "value", min: lo, max: hi,
      axisLine: { show: false }, splitLine: { show: false },
      axisTick: { show: false },
      axisLabel: {
        customValues: b.labels, fontFamily: b.ff, fontSize: b.font, color: "#222", margin: b.horizontal ? 1 : 3,
        formatter: (v: number) => `${v}`,
      },
    };
    const crossAxis = { gridIndex: idx, type: "value", min: 0, max: 1, show: false };
    xAxis.push(b.horizontal ? { ...valueAxis, position: "bottom" } : crossAxis);
    yAxis.push(b.horizontal ? crossAxis : { ...valueAxis, position: "right" });
    const at = (v: number, c: number) => (b.horizontal ? [v, c] : [c, v]);
    const cells: { pts: P[]; color: string }[] = [];
    if (b.tips) cells.push({ pts: [at(lo, 0), at(lo, 1), at(lo - step, 0.5)], color: b.colors[0] });
    for (let k = 0; k + 1 < b.levels.length; k++) {
      cells.push({ pts: [at(b.levels[k], 0), at(b.levels[k + 1], 0), at(b.levels[k + 1], 1), at(b.levels[k], 1)], color: b.colors[k + 1] });
    }
    if (b.tips) cells.push({ pts: [at(hi, 0), at(hi, 1), at(hi + step, 0.5)], color: b.colors[b.colors.length - 1] });
    series.push({
      type: "custom", xAxisIndex: idx, yAxisIndex: idx, clip: false, silent: true, z: 2,
      data: cells.map((_, k) => [k]),
      renderItem: (params: any, api: any) => {
        const c = cells[params.dataIndex];
        return {
          type: "polygon",
          shape: { points: c.pts.map((q) => api.coord(q)) },
          style: { fill: c.color, stroke: b.border, lineWidth: 0.6 },
        };
      },
    });
  });

  return {
    animation: false,
    backgroundColor: "#fff",
    grid,
    xAxis,
    yAxis,
    series,
    graphic: letters.map((l) => ({
      type: "text", x: l.x, y: l.y,
      style: { text: l.t, fontFamily: "Liberation Serif", fontWeight: "bold", fontSize: 18, fill: "#000", textVerticalAlign: "middle" },
    })),
  };
}

export default function App() {
  const ref = useRef<HTMLDivElement>(null);
  useEffect(() => {
    const chart = echarts.init(ref.current!, undefined, { renderer: "svg" });
    chart.setOption(buildOption() as any);
    return () => chart.dispose();
  }, []);
  return <div ref={ref} style={{ position: "absolute", left: 0, top: 0, width: 764, height: 842 }} />;
}
